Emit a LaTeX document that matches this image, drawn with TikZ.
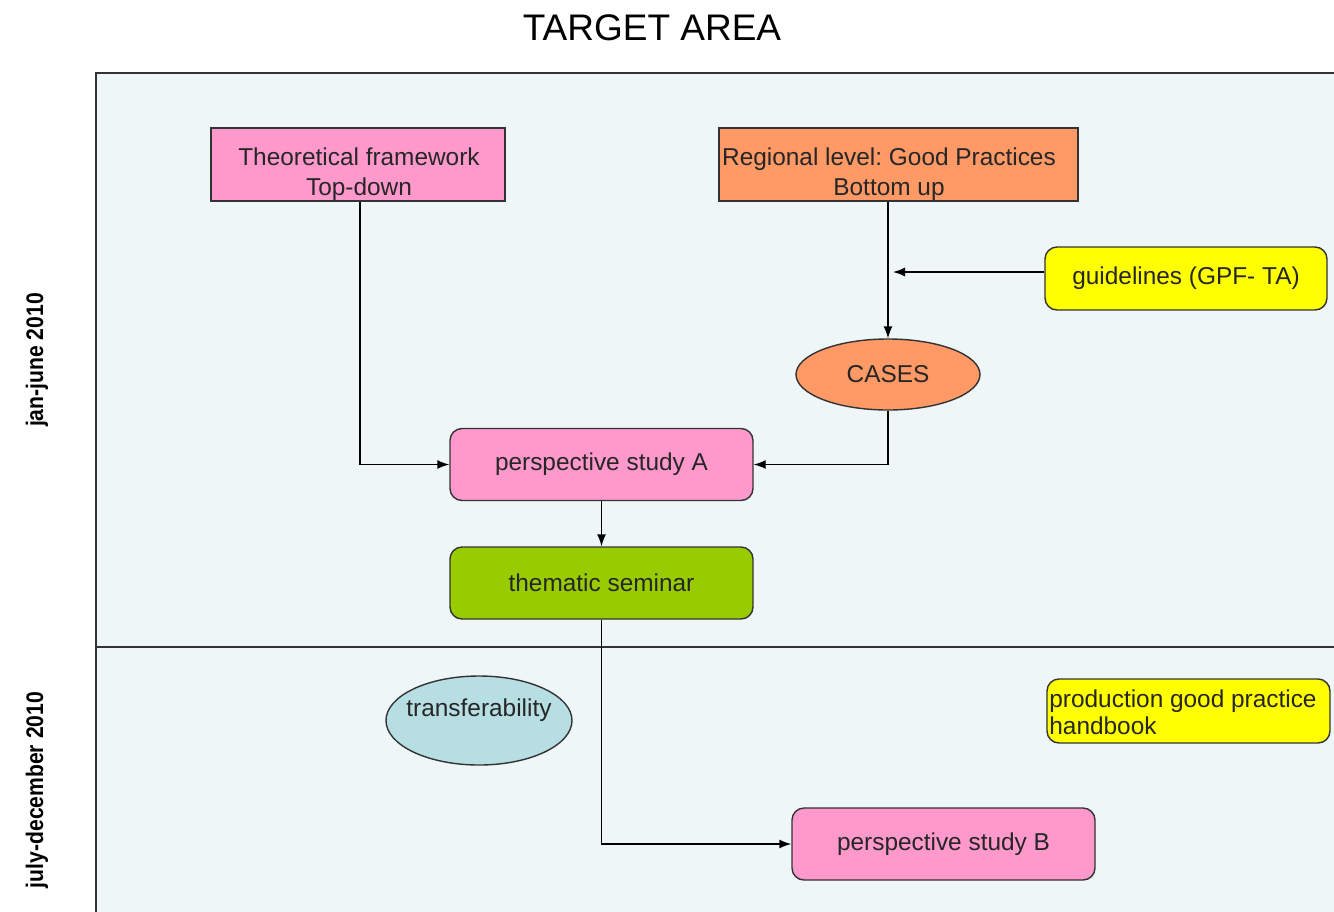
\documentclass[tikz,border=0pt]{standalone}
\usepackage{fontspec}
\setmainfont{Liberation Sans}
\usetikzlibrary{arrows.meta,shapes.geometric}
\definecolor{panelbg}{HTML}{EEF6F8}
\definecolor{pinkbox}{HTML}{FF99CC}
\definecolor{orangebox}{HTML}{FF9966}
\definecolor{yellowbox}{HTML}{FFFF00}
\definecolor{greenbox}{HTML}{99CC00}
\definecolor{bluebox}{HTML}{B7DEE3}
\definecolor{edge}{HTML}{333333}
\tikzset{
  px/.style={x=0.5pt,y=-0.5pt},
  txt/.style={font=\fontsize{12.2}{13.5}\selectfont,text=black!85},
  boxbase/.style={draw=edge,line width=0.7pt,inner sep=0pt,txt},
  sharpbox/.style={boxbase,rectangle,minimum width=147pt,minimum height=36.5pt,align=center},
  roundbox/.style={boxbase,rectangle,rounded corners=6pt,minimum width=151.5pt,minimum height=36pt,align=center},
  ellbox/.style={boxbase,ellipse},
  conn/.style={line width=0.7pt,draw=black,-{Latex[length=6pt,width=4.5pt]}},
  sidelabel/.style={rotate=90,font=\bfseries\fontsize{12}{14}\selectfont}
}
\begin{document}
\begin{tikzpicture}[px]
\useasboundingbox (0,0) rectangle (1334,911);
\fill[white] (0,0) rectangle (1334,911);
% panel
\fill[panelbg] (96,73) rectangle (1340,915);
\draw[edge,line width=0.8pt] (1340,73) -- (96,73) -- (96,915);
\draw[edge,line width=0.8pt] (96,647) -- (1340,647);
% title
\node[font=\fontsize{18.5}{21}\selectfont] (title) at (652,28) {TARGET AREA};
% side labels
\node[sidelabel] (lab1) at (37,360) {\scalebox{0.88}[1]{jan-june 2010}};
\node[sidelabel] (lab2) at (37,790) {\scalebox{0.88}[1]{july-december 2010}};
% nodes
\node[sharpbox,fill=pinkbox,minimum width=147pt] (theo) at (358,164.5) {};
\node[txt,align=center,inner sep=0pt] (theot) at (359,174) {Theoretical framework\\[1.5pt]Top-down};
\node[sharpbox,fill=orangebox,minimum width=179.5pt] (reg) at (898.5,164.5) {};
\node[txt,align=center,inner sep=0pt] (regt) at (889,174) {Regional level:\ Good Practices\\[1.5pt]Bottom up};
\node[roundbox,fill=yellowbox,minimum width=141pt,minimum height=31.5pt] (guide) at (1186,278.5) {guidelines (GPF- TA)};
\node[ellbox,fill=orangebox,minimum width=92pt,minimum height=35.5pt] (cases) at (888,374.5) {CASES};
\node[roundbox,fill=pinkbox] (psa) at (601.5,464.5) {perspective study A};
\node[roundbox,fill=greenbox] (sem) at (601.5,583) {thematic seminar};
\node[ellbox,fill=bluebox,minimum width=93pt,minimum height=44.5pt] (transf) at (479,720.5) {};
\node[txt] (transft) at (479,710) {transferability};
\node[roundbox,fill=yellowbox,minimum width=141.5pt,minimum height=32pt,align=left] (hand) at (1188.5,711) {};
\node[txt,align=left,anchor=west,inner sep=0pt] (handt) at (1049,712) {production good practice\\handbook};
\node[roundbox,fill=pinkbox] (psb) at (943.5,844) {perspective study B};
% connectors
\coordinate (gtip) at (893,272);
\draw[conn] (theo.south -| 360,0) |- (psa.west);
\draw[conn] (reg.south -| 888,0) -- (cases.north);
\draw[conn] (guide.west |- gtip) -- (gtip);
\draw[conn] (cases.south) |- (psa.east);
\draw[conn] (psa.south) -- (sem.north);
\draw[conn] (sem.south) |- (psb.west);
\end{tikzpicture}
\end{document}
